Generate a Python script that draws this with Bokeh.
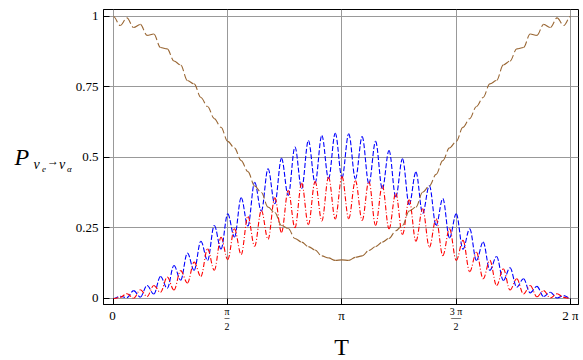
import numpy as np
from bokeh.plotting import figure
from bokeh.models import FixedTicker, Range1d
from bokeh.layouts import row, column
from bokeh.core.properties import value
from bokeh.embed import file_html
from bokeh.resources import INLINE

# Sample grid: the extrema of the fast oscillation (T_k = k*pi/34, k = 0..68)
n_samples = 69
T = np.linspace(0.0, 2.0 * np.pi, n_samples)

# P(nu_e -> nu_e) : brown long-dashed curve (values read at T_k)
p_brown = [
    1.000, 0.968, 0.995, 0.961, 0.972, 0.933, 0.938, 0.890, 0.885, 0.842,
    0.828, 0.773, 0.761, 0.713, 0.681, 0.638, 0.607, 0.557, 0.534, 0.489,
    0.450, 0.399, 0.376, 0.324, 0.305, 0.259, 0.248, 0.213, 0.200, 0.184,
    0.172, 0.151, 0.144, 0.135, 0.137, 0.135, 0.146, 0.151, 0.170, 0.184,
    0.200, 0.213, 0.240, 0.259, 0.310, 0.324, 0.377, 0.399, 0.440, 0.489,
    0.534, 0.557, 0.607, 0.638, 0.681, 0.713, 0.761, 0.773, 0.828, 0.842,
    0.885, 0.890, 0.938, 0.933, 0.972, 0.961, 0.995, 0.968, 1.000,
]

# blue dashed curve
p_blue = [
    0.000, 0.008, 0.003, 0.028, 0.005, 0.046, 0.016, 0.078, 0.036, 0.117,
    0.065, 0.161, 0.100, 0.203, 0.135, 0.259, 0.175, 0.300, 0.218, 0.357,
    0.257, 0.412, 0.310, 0.460, 0.336, 0.497, 0.365, 0.537, 0.390, 0.560,
    0.410, 0.578, 0.425, 0.586, 0.428, 0.584, 0.424, 0.574, 0.407, 0.557,
    0.389, 0.525, 0.360, 0.495, 0.333, 0.448, 0.302, 0.400, 0.259, 0.354,
    0.215, 0.300, 0.175, 0.247, 0.135, 0.200, 0.100, 0.149, 0.064, 0.109,
    0.040, 0.070, 0.020, 0.043, 0.007, 0.022, 0.002, 0.010, 0.000,
]

# red dot-dashed curve
p_red = [
    0.000, 0.004, 0.017, 0.001, 0.031, 0.007, 0.046, 0.022, 0.076, 0.030,
    0.099, 0.055, 0.129, 0.078, 0.176, 0.100, 0.217, 0.138, 0.247, 0.156,
    0.291, 0.185, 0.312, 0.210, 0.357, 0.235, 0.383, 0.251, 0.409, 0.262,
    0.415, 0.275, 0.430, 0.282, 0.432, 0.283, 0.418, 0.277, 0.415, 0.259,
    0.400, 0.247, 0.373, 0.227, 0.350, 0.203, 0.318, 0.182, 0.283, 0.152,
    0.247, 0.135, 0.206, 0.095, 0.164, 0.070, 0.135, 0.046, 0.105, 0.030,
    0.070, 0.016, 0.046, 0.006, 0.028, 0.002, 0.017, 0.004, 0.000,
]

x_ticks = [0.0, np.pi / 2, np.pi, 3 * np.pi / 2, 2 * np.pi]
x_tick_labels = ["0", None, "π", None, "2 π"]
x_frac_numerators = ["π", "3 π"]          # for pi/2 and 3pi/2
x_frac_ticks = [np.pi / 2, 3 * np.pi / 2]
x_frac_denominator = "2"
y_ticks = [0.0, 0.25, 0.5, 0.75, 1.0]
y_tick_labels = ["0", "0.25", "0.5", "0.75", "1"]

SERIF = "Liberation Serif"
W, H = 583, 360
LEFT_W = 72          # strip holding the y title
MAIN_H = 306         # main plot height (frame from y=9 to y=304)

# ---------------------------------------------------------------- main plot
p = figure(width=W - LEFT_W, height=MAIN_H, output_backend="svg", toolbar_location=None,
           x_range=Range1d(-0.137, 6.393), y_range=Range1d(-0.0213, 1.0248),
           min_border_left=30, min_border_right=5, min_border_top=9, min_border_bottom=2)
p.outline_line_color = "black"
p.background_fill_color = "white"
p.border_fill_color = "white"

for ax, ticks in ((p.xaxis, x_ticks), (p.yaxis, y_ticks)):
    ax.ticker = FixedTicker(ticks=ticks)
    ax.major_tick_in = 6
    ax.major_tick_out = 0
    ax.minor_tick_in = 0
    ax.minor_tick_out = 0
    ax.axis_line_color = "black"
    ax.major_tick_line_color = "black"
    ax.major_label_text_font = SERIF
    ax.major_label_text_color = "black"

p.yaxis.major_label_overrides = {t: l for t, l in zip(y_ticks, y_tick_labels)}
p.yaxis.major_label_text_font_size = "13px"
p.yaxis.major_label_standoff = 5
# x tick labels are drawn in the strip below (mixed sizes / fractions)
p.xaxis.major_label_overrides = {t: "" for t in x_ticks}
p.xaxis.major_label_text_font_size = "1px"
p.xaxis.major_label_standoff = 0

p.xgrid.ticker = FixedTicker(ticks=x_ticks)
p.ygrid.ticker = FixedTicker(ticks=y_ticks)
for g in (p.xgrid, p.ygrid):
    g.grid_line_color = "#999999"
    g.grid_line_width = 1


def smooth(fig, xs, ys, **kw):
    xs = np.asarray(xs, dtype=float)
    ys = np.asarray(ys, dtype=float)
    x0, x1 = xs[:-1], xs[1:]
    y0, y1 = ys[:-1], ys[1:]
    d = (x1 - x0) * 0.36
    fig.bezier(x0=x0, y0=y0, x1=x1, y1=y1, cx0=x0 + d, cy0=y0, cx1=x1 - d, cy1=y1, **kw)


smooth(p, T, p_blue, line_color="#0000ff", line_width=1.1, line_dash="5 2")
smooth(p, T, p_red, line_color="#ff0000", line_width=1.1, line_dash="5 2 1 2")
smooth(p, T, p_brown, line_color="#996633", line_width=1.1, line_dash="7 3")

# ---------------------------------------------------------------- left strip: y title
left = figure(width=LEFT_W, height=MAIN_H, output_backend="svg", toolbar_location=None,
              x_range=Range1d(0, LEFT_W), y_range=Range1d(MAIN_H, 0),
              x_axis_location=None, y_axis_location=None, min_border=0)
left.grid.visible = False
left.outline_line_color = None
left.background_fill_color = "white"
left.border_fill_color = "white"

title_parts = [  # text, x, y, size, style
    ("P", 14, 153.5, "24px", "italic"),
    ("ν", 33, 160.5, "14px", "italic"),
    ("e", 41.5, 165.5, "9px", "italic"),
    ("→", 46.5, 157.5, "12px", "normal"),
    ("ν", 58.5, 160.5, "14px", "italic"),
    ("α", 66.5, 165.5, "9px", "italic"),
]
for txt, tx, ty, fs, st in title_parts:
    left.text(x=[tx], y=[ty], text=[txt], text_font=value(SERIF), text_font_size=value(fs),
              text_font_style=st, text_align="left", text_baseline="alphabetic", text_color="black")

# ---------------------------------------------------------------- bottom strip: x tick labels + axis title
bottom = figure(width=W, height=H - MAIN_H, output_backend="svg", toolbar_location=None,
                x_range=p.x_range, y_range=Range1d(H, MAIN_H),
                x_axis_location=None, y_axis_location=None,
                min_border_left=102, min_border_right=5, min_border_top=0, min_border_bottom=0)
bottom.grid.visible = False
bottom.outline_line_color = None
bottom.background_fill_color = "white"
bottom.border_fill_color = "white"

main_x = [t for t, l in zip(x_ticks, x_tick_labels) if l]
main_l = [l for l in x_tick_labels if l]
bottom.text(x=main_x, y=[315] * len(main_x), text=main_l, text_font=value(SERIF),
            text_font_size=value("13px"), text_align="center", text_baseline="alphabetic",
            text_color="black")
bottom.text(x=x_frac_ticks, y=[311] * 2, text=x_frac_numerators, text_font=value(SERIF),
            text_font_size=value("10px"), text_align="center", text_baseline="alphabetic",
            text_color="black")
bottom.text(x=x_frac_ticks, y=[316.5] * 2, text=["–", "—"], text_font=value(SERIF),
            text_font_size=value("10px"), text_align="center", text_baseline="alphabetic",
            text_color="black")
bottom.text(x=x_frac_ticks, y=[325.5] * 2, text=[x_frac_denominator] * 2, text_font=value(SERIF),
            text_font_size=value("10px"), text_align="center", text_baseline="alphabetic",
            text_color="black")
bottom.text(x=[np.pi], y=[346], text=["T"], text_font=value(SERIF),
            text_font_size=value("24px"), text_align="center", text_baseline="alphabetic",
            text_color="black")

layout = column(row(left, p), bottom)
open("out.html", "w").write(file_html(layout, INLINE))
